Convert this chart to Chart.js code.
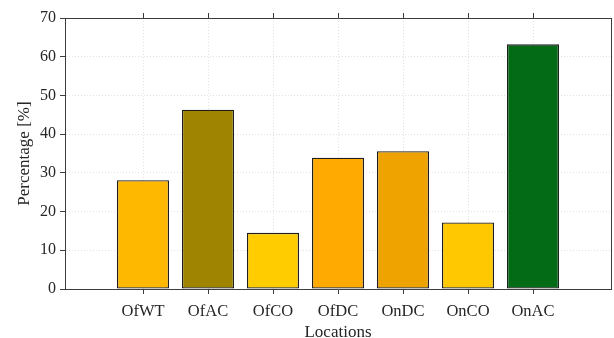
<!DOCTYPE html>
<html lang="en">
<head>
    <meta charset="UTF-8">
    <title>Locations</title>
    <style>
        html, body { margin: 0; padding: 0; background: #fff; }
        #wrap { width: 614px; height: 338px; position: relative; }
    </style>
</head>
<body>
<div id="wrap"><canvas id="barChart"></canvas></div>

<script src="https://cdn.jsdelivr.net/npm/chart.js"></script>
<script>
// Data
const locations = ['OfWT', 'OfAC', 'OfCO', 'OfDC', 'OnDC', 'OnCO', 'OnAC'];
const percentages = [28.1, 46.3, 14.5, 33.9, 35.6, 17.2, 63.2];
const barColors = ['#FFB800', '#9E8400', '#FFCC00', '#FFAA00', '#EEA300', '#FFC800', '#036A16'];
const yTicks = [0, 10, 20, 30, 40, 50, 60, 70];

const fontFam = '"Liberation Serif", "DejaVu Serif", serif';
const ink = '#262626';
const axisCol = '#3c3c3c';

// bars sit at x = 1..7 on a linear axis, with empty room either side
const positionTicks = axis => { axis.ticks = locations.map((c, i) => ({ value: i + 1 })); };

const ctx = document.getElementById('barChart').getContext('2d');
new Chart(ctx, {
    type: 'bar',
    data: {
        datasets: [{
            data: percentages.map((v, i) => ({ x: i + 1, y: v })),
            backgroundColor: barColors,
            borderColor: '#1e1e1e',
            borderWidth: 1.3,
            borderSkipped: false,
            categoryPercentage: 1,
            barPercentage: 0.8
        }]
    },
    options: {
        responsive: true,
        maintainAspectRatio: false,
        animation: false,
        layout: { padding: 0 },
        plugins: {
            legend: { display: false },
            tooltip: { enabled: false }
        },
        scales: {
            x: {
                type: 'linear',
                position: 'bottom',
                offset: false,
                min: -0.2,
                max: 8.2,
                afterBuildTicks: positionTicks,
                afterFit: s => { s.height = 49; },
                ticks: {
                    callback: v => locations[v - 1],
                    color: ink,
                    font: { family: fontFam, size: 16.5 },
                    padding: 8,
                    maxRotation: 0,
                    autoSkip: false
                },
                grid: {
                    offset: false,
                    color: 'rgba(0,0,0,0.12)',
                    tickColor: axisCol,
                    tickLength: 5,
                    lineWidth: 1
                },
                border: { display: true, color: axisCol, width: 1, dash: [1, 2] },
                title: {
                    display: true,
                    text: 'Locations',
                    color: ink,
                    font: { family: fontFam, size: 17, lineHeight: 1 },
                    padding: { top: 0, bottom: -3 }
                }
            },
            xTop: {
                type: 'linear',
                position: 'top',
                offset: false,
                min: -0.2,
                max: 8.2,
                afterBuildTicks: positionTicks,
                afterFit: s => { s.height = 18; },
                ticks: { display: false },
                grid: { offset: false, drawOnChartArea: false, tickColor: axisCol, tickLength: 5 },
                border: { display: true, color: axisCol, width: 1 }
            },
            y: {
                min: 0,
                max: 70,
                afterBuildTicks: axis => { axis.ticks = yTicks.map(v => ({ value: v })); },
                afterFit: s => { s.width = 65; },
                ticks: {
                    color: ink,
                    font: { family: fontFam, size: 16 },
                    padding: 4
                },
                grid: {
                    color: 'rgba(0,0,0,0.12)',
                    tickColor: axisCol,
                    tickLength: 5,
                    lineWidth: 1
                },
                border: { display: true, color: axisCol, width: 1, dash: [1, 2] },
                title: {
                    display: true,
                    text: 'Percentage [%]',
                    color: ink,
                    font: { family: fontFam, size: 17, lineHeight: 1 },
                    padding: { top: 16, bottom: 0 }
                }
            },
            yRight: {
                position: 'right',
                min: 0,
                max: 70,
                afterFit: s => { s.width = 3; },
                ticks: { display: false },
                grid: { drawOnChartArea: false, drawTicks: false },
                border: { display: true, color: axisCol, width: 1 }
            }
        }
    }
});
</script>
</body>
</html>
